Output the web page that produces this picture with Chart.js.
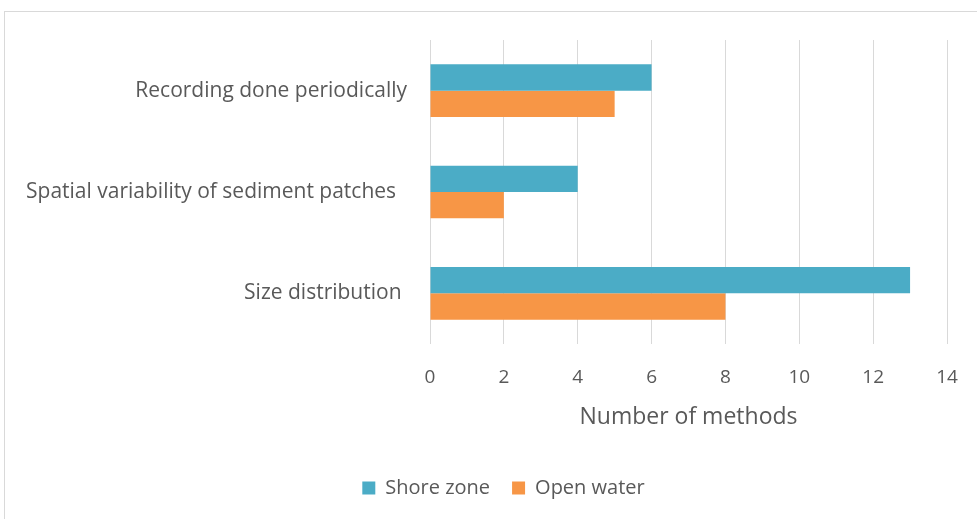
<!DOCTYPE html>
<html>
<head>
<meta charset="utf-8">
<script src="https://cdn.jsdelivr.net/npm/chart.js@4.4.0/dist/chart.umd.min.js"></script>
<style>
  html, body { margin:0; padding:0; background:#fff; }
  #wrap { position:relative; width:977px; height:519px; }
</style>
</head>
<body>
<div id="wrap"><canvas id="chart"></canvas></div>
<script>
// ---- data ----
const categories = ['Recording done periodically', 'Spatial variability of sediment patches  ', 'Size distribution '];
const shoreZone  = [6, 4, 13];
const openWater  = [5, 2, 8];
const seriesNames = ['Shore zone', 'Open water'];
const xTicks = [0, 2, 4, 6, 8, 10, 12, 14];

const TEXT = '#595959';
const FONT = '"Open Sans", Lato, sans-serif';

// light frame around the chart, like the office export
const framePlugin = {
  id: 'frame',
  beforeDraw(chart){
    const c = chart.ctx;
    c.save();
    c.fillStyle = '#fff';
    c.fillRect(0, 0, chart.width, chart.height);
    c.strokeStyle = '#d9d9d9';
    c.lineWidth = 1;
    c.strokeRect(4.5, 11.5, 1000, 1000);
    c.restore();
  }
};

// legend sits a bit right of the canvas centre in the original
const legendShift = {
  id: 'legendShift',
  afterLayout(chart){
    const lg = chart.legend;
    if(lg){ lg.left += 20; lg.right += 20; }
  }
};

new Chart(document.getElementById('chart'), {
  type: 'bar',
  data: {
    labels: categories,
    datasets: [
      { label: seriesNames[0], data: shoreZone, backgroundColor: '#4BACC6', categoryPercentage: 0.52, barPercentage: 1.0 },
      { label: seriesNames[1], data: openWater, backgroundColor: '#F79646', categoryPercentage: 0.52, barPercentage: 1.0 }
    ]
  },
  options: {
    indexAxis: 'y',
    responsive: true, maintainAspectRatio: false,
    animation: false,
    layout: { padding: { top: 40, right: 30, left: 20, bottom: 11 } },
    plugins: {
      legend: {
        position: 'bottom',
        labels: { color: TEXT, font: { family: FONT, size: 20 }, boxWidth: 13, boxHeight: 13, padding: 22 }
      },
      tooltip: { enabled: false }
    },
    scales: {
      x: {
        min: 0, max: 14,
        afterBuildTicks: (s) => { s.ticks = xTicks.map(v => ({ value: v })); },
        afterFit: (s) => { s.height = 112; s.paddingRight = 0; s.paddingLeft = 0; },
        grid: { color: '#d9d9d9', lineWidth: 1, drawTicks: false },
        border: { display: false },
        ticks: { color: TEXT, font: { family: FONT, size: 19 }, padding: 22 },
        title: { display: true, text: 'Number of methods', color: TEXT, font: { family: FONT, size: 23 }, padding: { top: 10, bottom: 25 } }
      },
      y: {
        afterFit: (s) => { s.width = 410; },
        grid: { display: false, drawTicks: false },
        border: { display: false },
        ticks: { color: TEXT, font: { family: FONT, size: 21 }, padding: 23 }
      }
    }
  },
  plugins: [framePlugin, legendShift]
});
</script>
</body>
</html>
